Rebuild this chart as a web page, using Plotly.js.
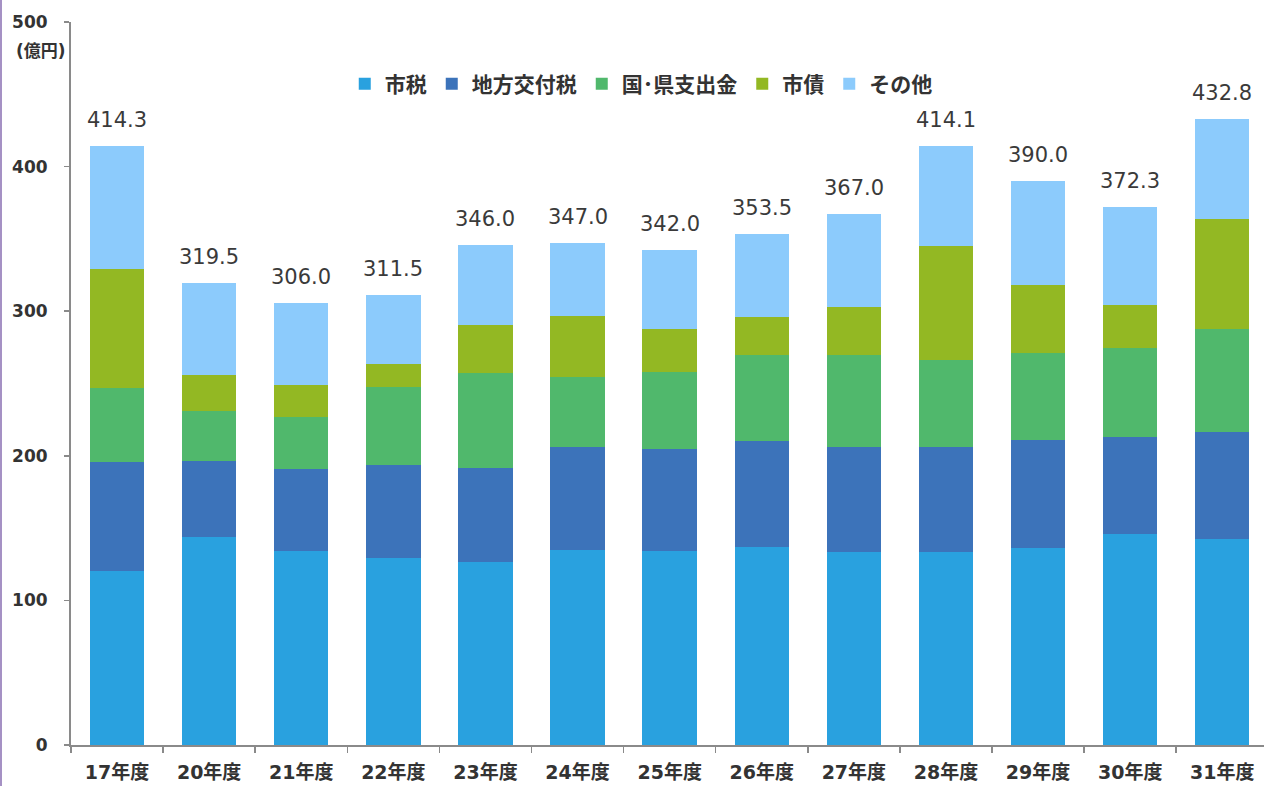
<!DOCTYPE html>
<html>
<head>
<meta charset="utf-8">
<script src="https://cdn.plot.ly/plotly-3.0.1.min.js"></script>
<style>
  html, body { margin: 0; padding: 0; background: #fff; }
  #wrap { position: relative; width: 1264px; height: 786px; }
  #chart { width: 1264px; height: 786px; }
  #edge { position: absolute; left: 0; top: 0; width: 2px; height: 786px; background: #a591c4; }
</style>
</head>
<body>
<div id="wrap"><div id="chart"></div><div id="edge"></div></div>
<script>
// Categories (fiscal years)
const years = ["17年度","20年度","21年度","22年度","23年度","24年度","25年度","26年度","27年度","28年度","29年度","30年度","31年度"];

// Series values (億円)
const shizei      = [120.6, 143.9, 134.3, 129.4, 126.4, 135.2, 134.5, 137.2, 133.6, 133.6, 135.9, 146.2, 142.6];
const kofuzei     = [ 74.8,  52.2,  56.7,  63.9,  65.5,  70.6,  70.3,  72.7,  72.6,  72.6,  75.0,  66.9,  74.0];
const kokuken     = [ 51.2,  35.0,  36.0,  54.2,  65.1,  48.9,  53.5,  59.5,  63.7,  60.2,  59.9,  61.4,  71.1];
const shisai      = [ 82.3,  25.0,  21.9,  16.2,  33.2,  42.0,  29.6,  26.6,  33.2,  78.7,  47.1,  29.5,  76.3];
const sonota      = [ 85.4,  63.4,  57.1,  47.8,  55.8,  50.3,  54.1,  57.5,  63.9,  69.0,  72.1,  68.3,  68.8];

// Total labels shown above bars
const totals      = [414.3, 319.5, 306.0, 311.5, 346.0, 347.0, 342.0, 353.5, 367.0, 414.1, 390.0, 372.3, 432.8];

// Series names
const seriesNames = ["市税", "地方交付税", "国･県支出金", "市債", "その他"];

const colors = ["#29a1df", "#3c73ba", "#50b86c", "#93b823", "#8ccbfc"];
const seriesData = [shizei, kofuzei, kokuken, shisai, sonota];

const FONT = "DejaVu Sans, 'Noto Sans CJK JP', sans-serif";

const traces = seriesData.map((vals, i) => ({
  type: "bar",
  name: seriesNames[i],
  x: years,
  y: vals,
  marker: { color: colors[i], line: { width: 0 } },
  hoverinfo: "skip"
}));

const annotations = years.map((yr, i) => ({
  x: yr,
  y: totals[i],
  xref: "x",
  yref: "y",
  text: totals[i].toFixed(1),
  showarrow: false,
  yanchor: "bottom",
  yshift: 12,
  font: { family: FONT, size: 21, color: "#3a3a3a" }
}));

annotations.push({
  xref: "paper",
  yref: "y",
  x: 0,
  y: 480,
  xanchor: "right",
  xshift: -3,
  text: "(億円)",
  showarrow: false,
  font: { family: FONT, size: 17, color: "#333333", weight: "bold" }
});

const layout = {
  width: 1264,
  height: 786,
  margin: { l: 71, r: 0, t: 22, b: 41, pad: 0 },
  paper_bgcolor: "#ffffff",
  plot_bgcolor: "#ffffff",
  barmode: "stack",
  bargap: 0.41,
  showlegend: true,
  legend: {
    orientation: "h",
    x: 0.478,
    xanchor: "center",
    y: 0.914,
    yanchor: "middle",
    bgcolor: "rgba(0,0,0,0)",
    font: { family: FONT, size: 21, color: "#333333", weight: "bold" },
    traceorder: "normal"
  },
  xaxis: {
    type: "category",
    range: [-0.5, 12.453],
    showline: true,
    linecolor: "#8a8a8a",
    linewidth: 2,
    ticks: "outside",
    tickson: "boundaries",
    ticklen: 6,
    tickcolor: "#8a8a8a",
    tickwidth: 1.5,
    showgrid: false,
    zeroline: false,
    ticklabelstandoff: 9,
    tickfont: { family: FONT, size: 19, color: "#333333", weight: "bold" },
    fixedrange: true
  },
  yaxis: {
    range: [0, 500],
    dtick: 100,
    tick0: 0,
    showline: true,
    linecolor: "#8a8a8a",
    linewidth: 2,
    ticks: "outside",
    ticklen: 5,
    tickcolor: "#8a8a8a",
    tickwidth: 1.5,
    showgrid: false,
    zeroline: false,
    ticklabelstandoff: 13,
    tickfont: { family: FONT, size: 17, color: "#333333", weight: "bold" },
    fixedrange: true
  },
  annotations: annotations
};

Plotly.newPlot("chart", traces, layout, { displayModeBar: false, staticPlot: true });
</script>
</body>
</html>
